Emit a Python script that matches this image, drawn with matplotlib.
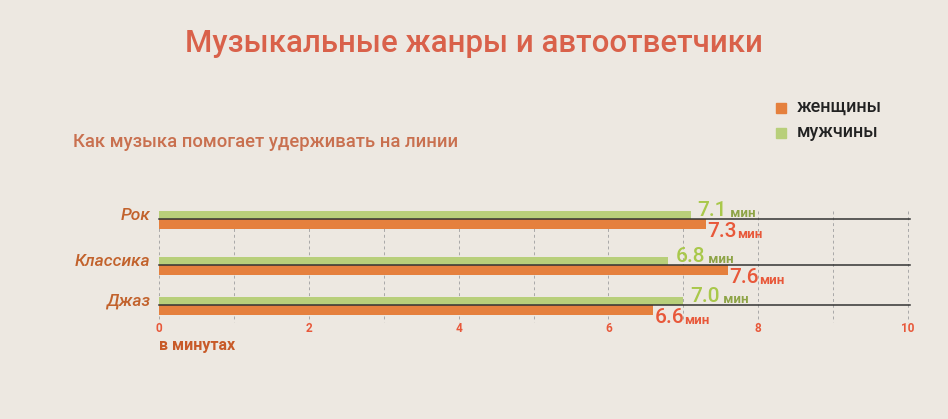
import matplotlib
matplotlib.use("Agg")
import matplotlib.pyplot as plt

# ---- data ----
genres = ["Рок", "Классика", "Джаз"]
women = [7.3, 7.6, 6.6]
men = [7.1, 6.8, 7.0]
series_labels = ["женщины", "мужчины"]
xticks = [0, 2, 4, 6, 8, 10]
title = "Музыкальные жанры и автоответчики"
subtitle = "Как музыка помогает удерживать на линии"
xlabel = "в минутах"
unit = "мин"

# ---- style / layout ----
BG = "#ede8e1"
ORANGE = "#e5803d"
GREEN = "#b8cf7a"
GREEN_TXT = "#a9c84b"
GREEN_UNIT = "#8ea446"
ORANGE_TXT = "#e8583a"
TITLE_C = "#d9614a"
SUB_C = "#c9704f"
CAT_C = "#c2622c"
FONT = "Roboto"
row_pos = [219, 265, 305]   # layout rows (pixel-like units)

W, H = 948, 419
fig = plt.figure(figsize=(W / 100, H / 100), dpi=100, facecolor=BG)
plt.rcParams["font.family"] = [FONT, "DejaVu Sans"]

top_px, bot_px = 200, 318
ax = fig.add_axes([159 / W, 1 - bot_px / H, 749 / W, (bot_px - top_px) / H])
ax.set_facecolor("none")
ax.set_xlim(0, 10)
ax.set_ylim(bot_px, top_px)
for s in ax.spines.values():
    s.set_visible(False)

# dashed vertical grid
for v in range(0, 11):
    ax.plot([v, v], [211, 322], color="#a8a8a8", lw=0.7, ls=(0, (3, 3)),
            zorder=1, clip_on=False)

ax.barh(row_pos, men, height=-8, align="edge", color=GREEN, zorder=2)
ax.barh(row_pos, women, height=10, align="edge", color=ORANGE, zorder=2)
for y in row_pos:
    ax.plot([0, 10.03], [y, y], color="#333333", lw=1.1, zorder=3, clip_on=False)

# value labels
for y, m, w in zip(row_pos, men, women):
    t = ax.annotate(f"{m:.1f}", (m, y - 9), xytext=(5, 0), textcoords="offset points",
                    ha="left", va="center", fontsize=15, fontweight="medium",
                    color=GREEN_TXT, annotation_clip=False)
    ax.annotate(" " + unit, (1, 0), xycoords=t, ha="left", va="bottom",
                fontsize=9.5, fontweight="bold", color=GREEN_UNIT)
    t2 = ax.annotate(f"{w:.1f}", (w, y + 12), xytext=(1, 0), textcoords="offset points",
                     ha="left", va="center", fontsize=15, fontweight="medium",
                     color=ORANGE_TXT, annotation_clip=False)
    ax.annotate(unit, (1, 0), xycoords=t2, ha="left", va="bottom",
                fontsize=9.5, fontweight="bold", color=ORANGE_TXT)

# ticks
ax.set_xticks(xticks)
ax.set_xticklabels([str(v) for v in xticks])
ax.tick_params(axis="x", length=0, pad=3, labelsize=8.5, labelcolor=ORANGE_TXT)
for lab in ax.get_xticklabels():
    lab.set_fontweight("bold")
ax.set_yticks([])

# category labels
for y, g in zip(row_pos, genres):
    ax.text(-0.12, y - 4, g, ha="right", va="center", fontsize=12.5,
            style="italic", fontweight="medium", color=CAT_C)

fig.text(159 / W, 1 - 345 / H, xlabel, ha="left", va="center", fontsize=11.5,
         fontweight="bold", color="#c85a28")

fig.text(474 / W, 1 - 43 / H, title, ha="center", va="center", fontsize=22.5,
         fontweight="medium", color=TITLE_C)
fig.text(73 / W, 1 - 142 / H, subtitle, ha="left", va="center", fontsize=13.3,
         fontweight="medium", color=SUB_C)

# legend
for i, (lab, c) in enumerate(zip(series_labels, [ORANGE, GREEN])):
    yc = 108 + 25 * i
    fig.patches.append(plt.Rectangle((776 / W, 1 - (yc + 5) / H), 10 / W, 10 / H,
                                     transform=fig.transFigure, color=c))
    fig.text(797 / W, 1 - (yc - 1) / H, lab, ha="left", va="center",
             fontsize=13, fontweight="medium", color="#222222")

fig.savefig("out.png", dpi=100, facecolor=BG)
